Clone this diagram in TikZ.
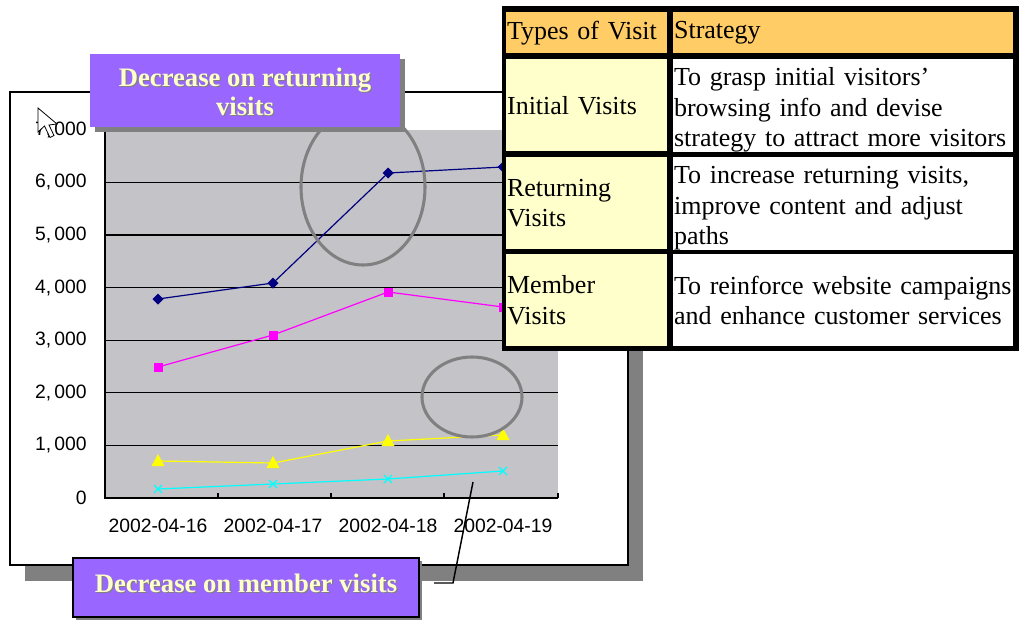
\documentclass[tikz,border=0pt]{standalone}
\usepackage{fontspec}
\setmainfont{Liberation Serif}
\newfontfamily\axisfont{Liberation Sans}
\usetikzlibrary{shadows}
\definecolor{plotbg}{HTML}{C4C3C8}
\definecolor{navyc}{HTML}{000080}
\definecolor{magc}{HTML}{FF00FF}
\definecolor{yelc}{HTML}{FFFF00}
\definecolor{cyc}{HTML}{00FFFF}
\definecolor{purp}{HTML}{9966FF}
\definecolor{paley}{HTML}{FFFFCC}
\definecolor{orangec}{HTML}{FFCC66}
\definecolor{shadowg}{HTML}{808080}
\hyphenpenalty=10000
\newcommand{\shd}[1]{\leavevmode\rlap{\kern0.9pt\raisebox{-0.9pt}{\textcolor{shadowg}{#1}}}#1}
\newcommand{\tline}[1]{\mbox{#1}}
\newcommand{\upstrut}{\rule{0pt}{20pt}}
\tikzset{
  cellbox/.style={anchor=north west, inner xsep=0.6pt, inner ysep=0pt, align=left,
    font=\fontsize{19.5}{22.8}\selectfont, text=black},
  colA/.style={cellbox, fill=paley, minimum width=120.75pt, text width=119.5pt},
  colB/.style={cellbox, fill=white, minimum width=255pt, text width=253.8pt},
  headrow/.style={minimum height=30.75pt, fill=orangec},
  bodyrow/.style={minimum height=69pt},
  callout/.style={fill=purp, text=paley, align=center,
    font=\bfseries\fontsize{20}{22}\selectfont},
  axislab/.style={font=\axisfont\fontsize{14.5}{16}\selectfont, inner sep=0pt},
  gridl/.style={black, line width=0.9pt},
  dataline/.style={line width=0.9pt},
  circ/.style={draw=shadowg, line width=2.3pt},
}
\begin{document}
\begin{tikzpicture}[x=0.75pt,y=-0.75pt]
\useasboundingbox (0,0) rectangle (1025,621);
% chart shadow and frame
\fill[shadowg] (25,107) rectangle (643,581);
\draw[fill=white, line width=0.8pt] (10,92) rectangle (628,565);
% plot area
\fill[plotbg] (105,130) rectangle (558,498);
\foreach \v in {1,...,6} { \draw[gridl] (105,{498-52.6*\v}) -- (558,{498-52.6*\v}); }
\draw[gridl] (105,130) -- (105,498) -- (558,498);
\foreach \x in {218,331,444,558} { \draw[gridl] (\x,498) -- (\x,493); }
% y labels
\foreach \v/\t in {0/0,1/{1,\,000},2/{2,\,000},3/{3,\,000},4/{4,\,000},5/{5,\,000},6/{6,\,000},7/{7,\,000}}
  { \node[axislab, anchor=east] (y\v) at (87,{498-52.6*\v}) {\t}; }
% x labels
\foreach \x/\t [count=\i] in {158/2002-04-16,273/2002-04-17,388/2002-04-18,503/2002-04-19}
  { \node[axislab] (x\i) at (\x,526) {\t}; }
% data lines
\draw[dataline, navyc] (158,299) -- (273,283) -- (388,173) -- (503,167);
\draw[dataline, magc] (158,367) -- (273,335) -- (388,292) -- (503,307);
\draw[dataline, yelc] (158,461) -- (273,463) -- (388,441) -- (503,435);
\draw[dataline, cyc] (158,489) -- (273,484) -- (388,479) -- (503,471);
\foreach \x/\y in {158/299,273/283,388/173,503/167}
  { \fill[navyc] (\x,\y) ++(0,-5.5) -- ++(5.5,5.5) -- ++(-5.5,5.5) -- ++(-5.5,-5.5) -- cycle; }
\foreach \x/\y in {158/367,273/335,388/292,503/307}
  { \fill[magc] (\x-4.5,\y-4.5) rectangle (\x+4.5,\y+4.5); }
\foreach \x/\y in {158/461,273/463,388/441,503/435}
  { \fill[yelc] (\x,\y-7) -- (\x+6.5,\y+5) -- (\x-6.5,\y+5) -- cycle; }
\foreach \x/\y in {158/489,273/484,388/479,503/471}
  { \draw[cyc, line width=0.9pt] (\x-4,\y-4) -- (\x+4,\y+4) (\x-4,\y+4) -- (\x+4,\y-4); }
% highlight ellipses
\draw[circ] (363,187) ellipse [x radius=62, y radius=78];
\draw[circ] (472,397) ellipse [x radius=50, y radius=40];
% cursor
\draw[fill=white, line width=0.6pt, line join=miter]
  (38,108) -- (38,132) -- (44.5,126) -- (50,137.5) -- (54,135.5) -- (49,125) -- (57,124) -- cycle;
% callout 1
\node[callout, minimum width=232.5pt, minimum height=54.75pt, inner sep=0pt,
  drop shadow={shadow xshift=3.75pt, shadow yshift=-3.75pt, fill=shadowg, opacity=1}]
  (c1) at (245,90.5) {\rule{0pt}{17pt}\shd{Decrease on returning}\\\shd{visits}};
% table
\fill[black] (502,6) rectangle (1019,351);
\node[colA, headrow] (h1) at (506,12) {Types of Visit};
\node[colB, headrow] (h2) at (673,12) {Strategy};
\node[colA, bodyrow] (a1) at (506,59) {Initial Visits};
\node[colB, bodyrow] (b1) at (673,59) {\upstrut\tline{To grasp initial visitors’}\\\tline{browsing info and devise}\\\tline{strategy to attract more visitors}};
\node[colA, bodyrow] (a2) at (506,157) {Returning\\Visits};
\node[colB, bodyrow] (b2) at (673,157) {\upstrut\tline{To increase returning visits,}\\\tline{improve content and adjust}\\\tline{paths}};
\node[colA, bodyrow] (a3) at (506,254) {Member\\Visits};
\node[colB, bodyrow] (b3) at (673,254) {\tline{To reinforce website campaigns}\\\tline{and enhance customer services}};
% callout 2
\node[callout, draw=black, line width=1.5pt, minimum width=259.5pt, minimum height=44.25pt, inner sep=0pt,
  text depth=6pt,
  drop shadow={shadow xshift=2.2pt, shadow yshift=-2.2pt, fill=shadowg, opacity=1}]
  (c2) at (246,587.5) {\shd{Decrease on member visits}};
% connector
\coordinate (k1) at (434,583);
\coordinate (k2) at (453,583);
\coordinate (k3) at (473,482);
\draw[line width=1.1pt] (k1) -- (k2) -- (k3);
\end{tikzpicture}
\end{document}
